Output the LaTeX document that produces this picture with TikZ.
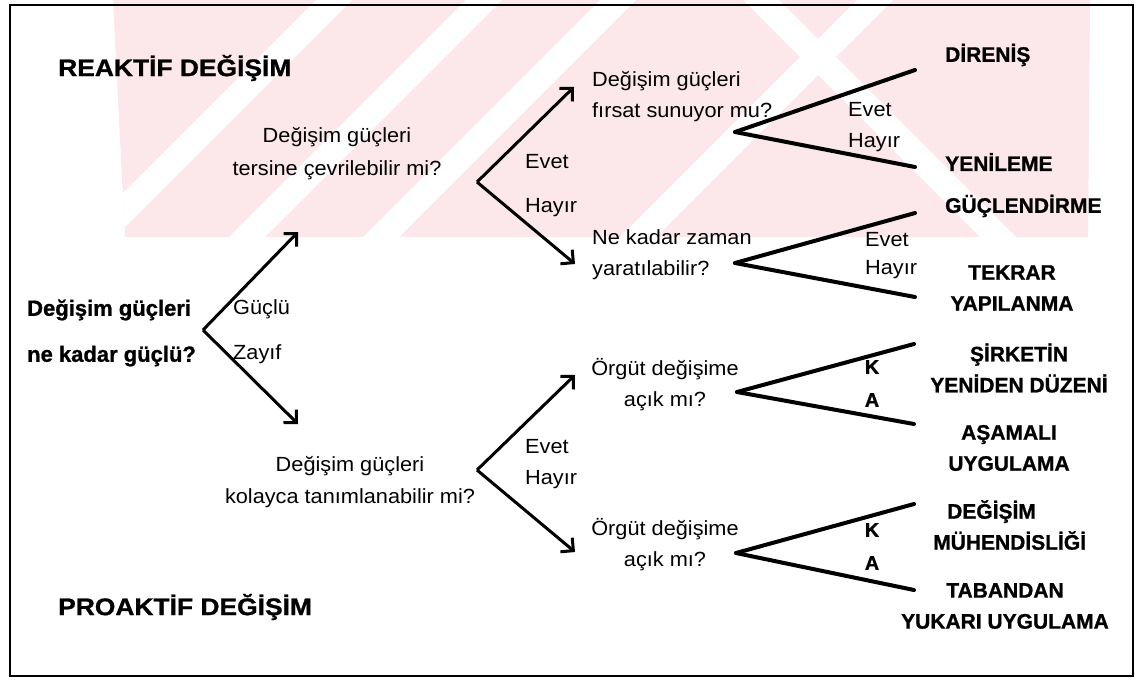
\documentclass[tikz,border=0pt]{standalone}
\usepackage{fontspec}
\setmainfont{Liberation Sans}[FakeStretch=1.06]
\newfontfamily\heavyfont{Liberation Sans}[BoldFeatures={FakeBold=1}]
\newfontfamily\headfont{Liberation Sans}[FakeStretch=1.1, BoldFeatures={FakeBold=1}]
\usepackage{tikz}
\usetikzlibrary{arrows.meta,positioning}

\definecolor{wmpink}{RGB}{252,231,234}

\tikzset{
  question/.style={font=\fontsize{20.5}{31}\selectfont, align=center, inner sep=0pt},
  questionl/.style={question, align=left, anchor=west},
  answer/.style={font=\fontsize{20.5}{22}\selectfont, inner sep=0pt, anchor=west},
  letter/.style={font=\heavyfont\bfseries\fontsize{20}{22}\selectfont, inner sep=0pt},
  outcome/.style={font=\heavyfont\bfseries\fontsize{21}{31}\selectfont, align=center, inner sep=0pt},
  outcomel/.style={outcome, align=left, anchor=west},
  heading/.style={font=\headfont\bfseries\fontsize{24}{26}\selectfont, inner sep=0pt, anchor=west},
  arrowline/.style={line width=3pt, -{Straight Barb[angle=90:13pt, line width=3pt]}},
  fanline/.style={line width=4pt, line cap=round},
}

\begin{document}
\begin{tikzpicture}[x=1pt,y=-1pt]
    \useasboundingbox (0,0) rectangle (1140,681);
    % watermark
    \begin{scope}
        \clip (113,0) -- (1090,0) -- (1088,237) -- (125,237) -- cycle;
        \fill[wmpink] (100,0) rectangle (1100,237);
        \foreach \s in {316,466,600,857} {
            \fill[white] (\s,0) -- (\s+36,0) -- (\s-201,237) -- (\s-237,237) -- cycle;
        }
        \fill[white] (743,0) -- (779,0) -- (1016,237) -- (980,237) -- cycle;
    \end{scope}
    % frame
    \draw[line width=2pt] (10,5) rectangle (1133,676);

    % headings
    \node[heading] (reaktif) at (58,68) {REAKTİF DEĞİŞİM};
    \node[heading] (proaktif) at (58,607) {PROAKTİF DEĞİŞİM};

    % first question
    \node[font=\heavyfont\bfseries\fontsize{22}{46}\selectfont, align=left, inner sep=0pt, anchor=west]
        (root) at (27,333) {Değişim güçleri\\ne kadar güçlü?};
    \coordinate (v0) at (203,330);
    \coordinate (tUp) at (298,232);
    \coordinate (tDown) at (298,424);
    \draw[arrowline] (v0) -- (tUp);
    \draw[arrowline] (v0) -- (tDown);
    \node[answer] (guclu) at (233,309) {Güçlü};
    \node[answer] (zayif) at (233,354) {Zayıf};

    % second level
    \node[question, font=\fontsize{20.5}{33}\selectfont] (qTersine) at (337,154) {Değişim güçleri\\tersine çevrilebilir mi?};
    \node[question, font=\fontsize{20.5}{32}\selectfont] (qKolay) at (350,482) {Değişim güçleri\\kolayca tanımlanabilir mi?};
    \coordinate (v1) at (477,182);
    \coordinate (v2) at (477,470);
    \coordinate (t1a) at (574,87);
    \coordinate (t1b) at (575,264);
    \coordinate (t2a) at (575,375);
    \coordinate (t2b) at (575,552);
    \draw[arrowline] (v1) -- (t1a);
    \draw[arrowline] (v1) -- (t1b);
    \draw[arrowline] (v2) -- (t2a);
    \draw[arrowline] (v2) -- (t2b);
    \node[answer] (evet1) at (525,162) {Evet};
    \node[answer] (hayir1) at (525,208) {Hayır};
    \node[answer] (evet2) at (525,447) {Evet};
    \node[answer] (hayir2) at (525,480) {Hayır};

    % third level
    \node[questionl] (qFirsat) at (592,97) {Değişim güçleri\\fırsat sunuyor mu?};
    \node[questionl] (qZaman) at (592,255) {Ne kadar zaman\\yaratılabilir?};
    \node[question] (qOrgutA) at (665,385) {Örgüt değişime\\açık mı?};
    \node[question] (qOrgutB) at (665,545) {Örgüt değişime\\açık mı?};

    \coordinate (f1) at (735,132);
    \coordinate (f2) at (735,263);
    \coordinate (f3) at (737,392);
    \coordinate (f4) at (736,553);
    \coordinate (e1a) at (915,70);   \coordinate (e1b) at (915,167);
    \coordinate (e2a) at (915,213);  \coordinate (e2b) at (915,297);
    \coordinate (e3a) at (914,344);  \coordinate (e3b) at (914,424);
    \coordinate (e4a) at (914,504);  \coordinate (e4b) at (914,590);
    \foreach \f in {1,2,3,4} {
        \draw[fanline] (f\f) -- (e\f a);
        \draw[fanline] (f\f) -- (e\f b);
    }
    \node[answer] (evet3) at (848,110) {Evet};
    \node[answer] (hayir3) at (848,143) {Hayır};
    \node[answer] (evet4) at (865,240) {Evet};
    \node[answer] (hayir4) at (865,270) {Hayır};
    \node[letter] (kA) at (872,367) {K};
    \node[letter] (aA) at (872,400) {A};
    \node[letter] (kB) at (872,530) {K};
    \node[letter] (aB) at (872,563) {A};

    % outcomes
    \node[outcomel] (direnis) at (945,55) {DİRENİŞ};
    \node[outcomel] (yenileme) at (945,162) {YENİLEME};
    \node[outcomel] (guclendirme) at (945,206) {GÜÇLENDİRME};
    \node[outcome] (tekrar) at (1012,288) {TEKRAR\\YAPILANMA};
    \node[outcome] (sirket) at (1019,368) {ŞİRKETİN\\YENİDEN DÜZENİ};
    \node[outcome] (asamali) at (1009,448) {AŞAMALI\\UYGULAMA};
    \node[outcomel] (muhendis) at (933,525) {\hspace*{14pt}DEĞİŞİM\\MÜHENDİSLİĞİ};
    \node[outcome] (tabandan) at (1005,606) {TABANDAN\\YUKARI UYGULAMA};
\end{tikzpicture}
\end{document}
